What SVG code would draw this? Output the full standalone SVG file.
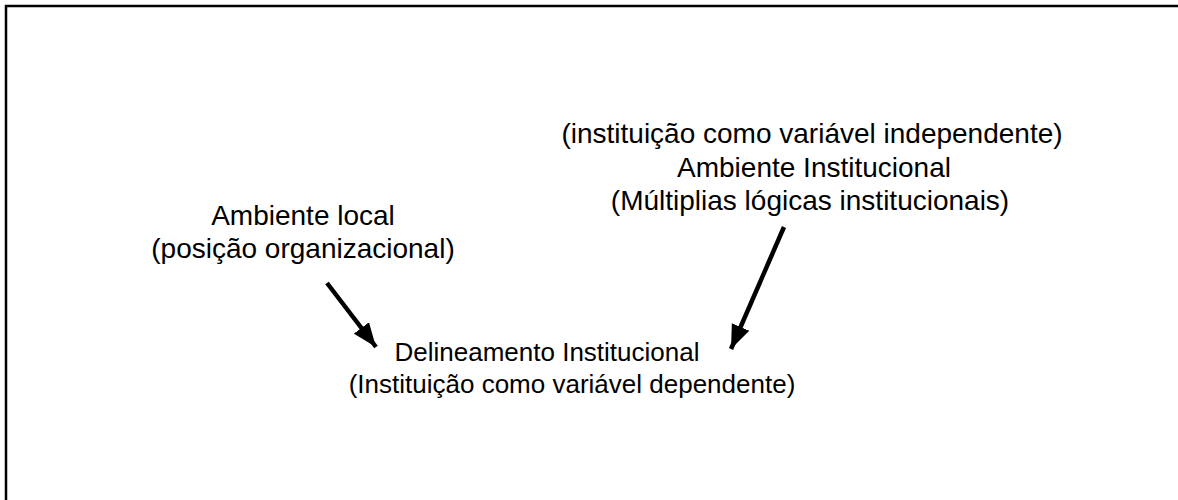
<svg xmlns="http://www.w3.org/2000/svg" width="1178" height="500" viewBox="0 0 1178 500">
<style>
text{font-family:"Liberation Sans",Arial,sans-serif;font-size:28px;fill:#000;text-anchor:middle}
text.m{font-size:26px}
.c{stroke:#000;stroke-width:4.5;fill:none}
</style>
<defs>
<marker id="ah" markerUnits="userSpaceOnUse" markerWidth="26" markerHeight="20" refX="24" refY="9.5" orient="auto" viewBox="0 0 26 19">
<path d="M0,0 L24,9.5 L0,19 Z" fill="#000"/>
</marker>
</defs>
<rect x="0" y="0" width="1178" height="500" fill="#fff"/>
<rect x="6" y="6" width="1220" height="560" fill="none" stroke="#000" stroke-width="2.5"/>
<g id="ambiente-institucional">
<text x="812" y="143">(instituição como variável independente)</text>
<text x="814" y="177">Ambiente Institucional</text>
<text x="810" y="210">(Múltiplias lógicas institucionais)</text>
</g>
<g id="ambiente-local">
<text x="303" y="225">Ambiente local</text>
<text x="303" y="258">(posição organizacional)</text>
</g>
<g id="delineamento">
<text class="m" x="547" y="361">Delineamento Institucional</text>
<text class="m" x="572" y="393">(Instituição como variável dependente)</text>
</g>
<g id="connectors">
<line class="c" x1="327" y1="283" x2="376" y2="347" marker-end="url(#ah)"/>
<line class="c" x1="784" y1="227" x2="731" y2="349" marker-end="url(#ah)"/>
</g>
</svg>
